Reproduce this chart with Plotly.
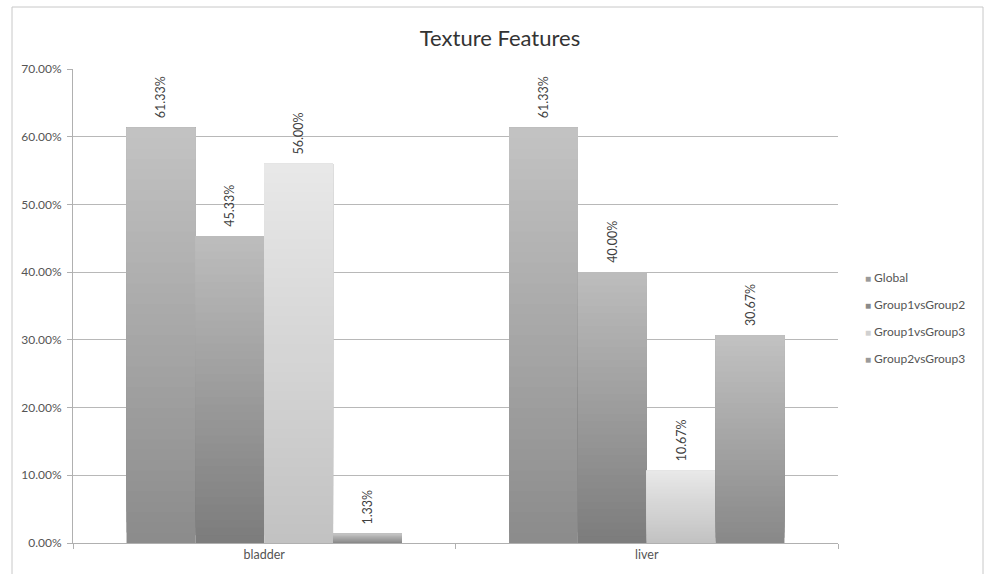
import plotly.graph_objects as go

# Texture feature results per organ (percent)
categories = ["bladder", "liver"]
series_names = ["Global", "Group1vsGroup2", "Group1vsGroup3", "Group2vsGroup3"]
global_vals = [61.33, 61.33]
g1_vs_g2_vals = [45.33, 40.00]
g1_vs_g3_vals = [56.00, 10.67]
g2_vs_g3_vals = [1.33, 30.67]
y_ticks = [0, 10, 20, 30, 40, 50, 60, 70]

series_values = [global_vals, g1_vs_g2_vals, g1_vs_g3_vals, g2_vs_g3_vals]

# grey gradient per series: (bottom shade, top shade), plus legend swatch
shades = [
    ((0x8b, 0x8b, 0x8b), (0xc3, 0xc3, 0xc3)),
    ((0x7c, 0x7c, 0x7c), (0xbd, 0xbd, 0xbd)),
    ((0xc2, 0xc2, 0xc2), (0xe8, 0xe8, 0xe8)),
    ((0x88, 0x88, 0x88), (0xc2, 0xc2, 0xc2)),
]
swatches = ["#9a9a9a", "#8a8a8a", "#d0d0d0", "#9a9a9a"]

FONT = "Lato"
N_STEPS = 40

fig = go.Figure()

for name, vals, (bot, top), sw in zip(series_names, series_values, shades, swatches):
    fracs = [v / 100 for v in vals]
    # overlapping slices, each running from its own base to the bar top,
    # painted bottom-up so the shade lightens toward the top
    for k in range(N_STEPS):
        t = (k + 0.5) / N_STEPS
        c = tuple(round(b + (tp - b) * t) for b, tp in zip(bot, top))
        fig.add_trace(go.Bar(
            x=categories,
            y=[f - f * k / N_STEPS for f in fracs],
            base=[f * k / N_STEPS for f in fracs],
            offsetgroup=name,
            legendgroup=name,
            showlegend=False,
            marker=dict(color="rgb(%d,%d,%d)" % c, line=dict(width=0)),
            hoverinfo="skip",
        ))
    # full-height transparent bar that carries the value label
    fig.add_trace(go.Bar(
        x=categories,
        y=fracs,
        offsetgroup=name,
        legendgroup=name,
        name=name,
        showlegend=False,
        marker=dict(color="rgba(0,0,0,0)", line=dict(width=0)),
        texttemplate="\u00a0\u00a0%{y:.2%}",
        textposition="outside",
        textangle=-90,
        textfont=dict(family=FONT, size=12.5, color="#404040"),
        cliponaxis=False,
        hovertemplate=name + " %{x}: %{y:.2%}<extra></extra>",
    ))
    # legend entry with a small square swatch in front of the name
    fig.add_trace(go.Scatter(
        x=[None], y=[None], mode="markers",
        marker=dict(size=0, color="rgba(0,0,0,0)", line=dict(width=0, color="rgba(0,0,0,0)")),
        legendgroup=name,
        name="<span style='color:%s;font-size:10px'>\u25a0</span> %s" % (sw, name),
        showlegend=True,
        hoverinfo="skip",
    ))

W, H = 987, 574
L, R, T, B = 73, 149, 69, 31
pw, ph = W - L - R, H - T - B

fig.update_layout(
    width=W, height=H,
    margin=dict(l=L, r=R, t=T, b=B, autoexpand=False),
    paper_bgcolor="white",
    plot_bgcolor="white",
    barmode="group",
    bargap=0.28,
    bargroupgap=0,
    title=dict(
        text="Texture Features",
        x=500 / W, xanchor="center",
        y=1 - 38 / H, yanchor="middle",
        font=dict(family=FONT, size=22, color="#333333"),
    ),
    font=dict(family=FONT, size=12, color="#555555"),
    legend=dict(
        x=(825 - L) / pw, xanchor="left",
        y=(H - B - 318) / ph, yanchor="middle",
        font=dict(family=FONT, size=12, color="#555555"),
        itemwidth=30,
        tracegroupgap=8,
        bgcolor="rgba(0,0,0,0)",
    ),
    xaxis=dict(
        showline=True, linecolor="#b0b0b0", linewidth=1,
        ticks="outside", tickson="boundaries", ticklen=5, tickcolor="#b0b0b0",
        showgrid=False,
        tickfont=dict(family=FONT, size=12.5, color="#555555"),
    ),
    yaxis=dict(
        range=[0, 0.70],
        tickvals=[v / 100 for v in y_ticks],
        tickformat=".2%",
        showline=True, linecolor="#b0b0b0", linewidth=1,
        ticks="outside", ticklen=5, tickcolor="#b0b0b0",
        ticklabelstandoff=3,
        showgrid=True, gridcolor="#b8b8b8", gridwidth=1,
        zeroline=False,
        tickfont=dict(family=FONT, size=12, color="#555555"),
    ),
    shapes=[dict(
        type="rect", xref="paper", yref="paper",
        x0=(12 - L) / pw, x1=(983 - L) / pw,
        y0=(H - B - 590) / ph, y1=(H - B - 7) / ph,
        line=dict(color="#c8c8c8", width=1),
        fillcolor="rgba(0,0,0,0)",
        layer="below",
    )],
)

fig.write_html("out.html")
